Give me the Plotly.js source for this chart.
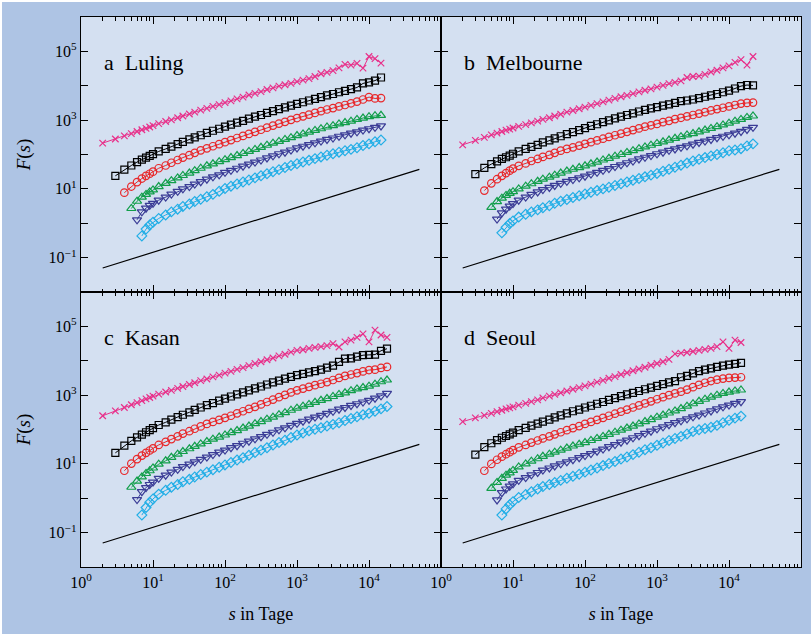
<!DOCTYPE html>
<html>
<head>
<meta charset="utf-8">
<script src="https://cdn.plot.ly/plotly-3.0.1.min.js"></script>
<style>html,body{margin:0;padding:0;background:#aec4e4;}#chart{width:811px;height:634px;}</style>
</head>
<body>
<div id="chart"></div>
<script>
// window sizes s (days), shared by all series
const S = [2,3,4,5,6,7,8,9,10,12,15,18,22,26,32,38,46,56,68,83,100,121,147,178,215,261,316,383,464,562,681,825,1000,1212,1468,1778,2154,2610,3162,3831,4642,5623,6813,8254,10000,12115,14678,17783,21544];
// first window size of each series (x, square, circle, up-triangle, down-triangle, diamond)
const SERIES_START_S = [2,3,4,5,6,7];
const PANEL_LABELS = ['a\u00a0\u00a0Luling','b\u00a0\u00a0Melbourne','c\u00a0\u00a0Kasan','d\u00a0\u00a0Seoul'];
// reference slope line
const LINE_S = [2, 50000];
const LINE_F = [0.05, 37];

// a Luling
const A_MAG = [214,282,347,407,468,525,575,631,692,794,912,1020,1170,1320,1510,1700,1950,2190,2510,2820,3240,3630,4170,4680,5370,6030,6760,7760,8710,9770,10700,11700,13200,14500,16200,18600,22400,24500,27500,33100,41700,39800,44700,32400,70800,61700,45700];
const A_BLK = [24.0,36.3,47.9,60.3,70.8,81.3,91.2,102,123,145,170,200,234,275,316,363,427,490,562,646,741,851,955,1100,1260,1410,1620,1820,2090,2340,2630,2950,3310,3720,4170,4680,5250,5750,6460,7080,7940,8910,11700,12600,14100,17400];
const A_RED = [7.76,11.7,15.8,20.0,24.0,27.5,31.6,39.8,47.9,57.5,69.2,81.3,95.5,112,132,151,174,200,229,263,302,347,398,457,525,603,692,794,891,1020,1150,1290,1450,1620,1820,2040,2240,2510,2750,3090,3470,3980,4680,4270,4370];
const A_GRN = [2.69,4.37,5.75,6.92,8.13,9.33,11.7,14.5,17.4,20.9,24.5,28.8,33.9,39.8,46.8,53.7,61.7,70.8,81.3,93.3,107,123,141,162,186,214,240,275,309,355,398,447,501,562,631,692,776,851,933,1050,1150,1260,1350,1380];
const A_BLU = [1.26,2.14,2.75,3.31,3.80,4.68,5.75,7.08,8.51,10.0,11.7,13.8,16.2,19.1,22.4,25.7,30.2,34.7,39.8,45.7,52.5,60.3,69.2,79.4,91.2,105,117,135,155,174,195,219,245,275,302,339,372,417,457,513,562,617,676];
const A_CYN = [0.427,0.676,0.891,1.07,1.38,1.74,2.14,2.57,3.09,3.63,4.27,5.01,5.89,6.92,8.51,10.2,12.0,13.8,15.8,18.2,20.9,24.0,27.5,31.6,36.3,41.7,47.9,53.7,60.3,67.6,75.9,85.1,95.5,105,117,129,141,158,182,204,234,263];

// b Melbourne
const B_MAG = [191,257,316,372,417,468,513,550,589,661,741,832,933,1050,1170,1320,1480,1700,1910,2140,2400,2690,3020,3390,3800,4270,4790,5250,5890,6610,7410,8130,9120,10200,11500,12600,13800,17400,18600,19100,21400,25100,28200,33100,38000,47900,57500,39800,70800];
const B_BLK = [26.9,40.7,52.5,63.1,74.1,83.2,93.3,105,123,145,166,191,224,257,295,339,389,447,513,589,676,759,871,977,1120,1260,1410,1580,1780,2000,2190,2400,2630,2880,3160,3550,3720,3980,4370,4790,5250,5750,6460,7240,8320,9770,10500,10200];
const B_RED = [8.91,14.5,19.1,24.0,28.8,33.9,38.9,46.8,55.0,64.6,74.1,85.1,97.7,112,129,145,162,182,204,229,257,288,324,363,407,457,513,575,646,708,776,871,955,1070,1170,1290,1410,1550,1700,1910,2090,2290,2510,2750,3020,3160,3240];
const B_GRN = [2.88,4.27,5.37,6.46,7.41,8.32,10.0,12.0,14.1,16.6,19.1,21.9,25.1,28.8,33.1,37.2,41.7,46.8,53.7,60.3,69.2,77.6,89.1,100,115,129,148,166,186,209,234,263,295,331,372,407,457,513,575,646,724,813,933,1050,1200,1320];
const B_BLU = [1.32,2.00,2.57,3.16,3.72,4.68,5.75,6.92,8.13,9.55,11.0,12.6,14.5,16.6,18.6,20.9,23.4,26.9,30.2,34.7,38.9,44.7,50.1,57.5,64.6,74.1,83.2,93.3,105,117,132,145,162,178,200,224,245,275,309,339,372,417,468,537,617];
const B_CYN = [0.525,0.759,0.977,1.17,1.51,1.82,2.14,2.45,2.82,3.24,3.80,4.37,4.90,5.62,6.31,7.08,7.94,8.91,10.0,11.2,12.6,14.1,15.8,17.8,20.0,22.4,25.1,28.2,32.4,37.2,42.7,49.0,56.2,64.6,72.4,81.3,91.2,100,112,129,135,148,178,204];

// c Kasan
const C_MAG = [251,347,437,525,603,692,776,851,933,1070,1230,1380,1580,1780,2040,2290,2630,2950,3390,3800,4370,4900,5620,6310,7240,8320,9330,10700,12000,13800,15500,17800,20000,20900,22900,24500,25700,27500,31600,25100,35500,39800,47900,60300,35500,77600,56200,47900];
const C_BLK = [20.9,33.9,46.8,58.9,70.8,83.2,95.5,110,135,162,195,229,269,316,372,437,513,589,692,794,912,1050,1200,1380,1580,1780,2040,2340,2630,3020,3390,3800,4170,4570,5010,5500,6310,7240,9330,11500,11700,13200,14500,14800,15100,19500,22400];
const C_RED = [6.31,10.2,13.8,17.4,20.9,24.5,28.2,35.5,43.7,52.5,63.1,75.9,89.1,105,123,145,166,191,219,251,295,339,398,457,537,631,741,871,1020,1200,1380,1550,1740,1950,2140,2400,2750,3160,3630,3980,4370,4900,5370,5500,6170,6610];
const C_GRN = [2.09,3.16,4.17,5.25,6.31,7.59,9.77,12.3,15.5,19.1,22.9,27.5,32.4,38.0,44.7,52.5,60.3,69.2,81.3,93.3,110,126,148,170,200,229,269,309,363,417,479,537,617,708,794,912,1050,1170,1350,1510,1660,1820,2090,2450,2750];
const C_BLU = [0.912,1.55,2.04,2.51,2.95,3.80,4.68,5.75,6.92,8.32,9.77,11.5,13.5,15.8,18.6,21.9,25.1,29.5,33.9,39.8,45.7,53.7,61.7,72.4,83.2,97.7,112,132,151,174,200,229,257,295,339,389,437,501,562,631,708,813,955,1120];
const C_CYN = [0.324,0.537,0.759,0.955,1.32,1.70,2.09,2.51,3.02,3.55,4.17,4.90,5.75,6.76,7.94,9.33,11.0,12.9,15.1,17.8,21.4,25.1,29.5,35.5,41.7,49.0,58.9,69.2,79.4,91.2,102,112,126,141,158,182,209,234,269,295,339,398,468];

// d Seoul
const D_MAG = [170,219,257,295,331,363,398,427,457,513,575,646,724,832,933,1050,1170,1320,1480,1660,1860,2090,2400,2690,3090,3470,3980,4470,5130,5750,6460,7410,8320,9330,11000,15800,16600,17400,18600,20000,21400,22900,25700,35500,22900,39800,33900];
const D_BLK = [18.6,30.9,39.8,49.0,57.5,64.6,72.4,81.3,95.5,112,129,148,170,195,224,257,295,339,380,437,490,562,631,724,813,933,1050,1170,1320,1480,1660,1860,2090,2340,2570,3310,3630,4270,5010,5500,6030,6610,7240,7760,8130,8710];
const D_RED = [6.31,10.0,13.2,16.2,19.1,21.9,25.1,30.2,35.5,41.7,47.9,55.0,63.1,72.4,83.2,95.5,110,126,145,166,191,219,251,288,331,380,437,501,575,661,759,871,1000,1120,1260,1450,1700,2000,2290,2570,2820,3020,3160,3240,3310];
const D_GRN = [1.95,2.88,3.80,4.68,5.50,6.46,8.13,10.0,12.0,14.1,16.6,19.1,21.9,25.1,28.8,33.1,37.2,41.7,47.9,55.0,63.1,72.4,83.2,95.5,110,126,145,170,195,229,263,302,347,407,479,562,661,759,871,1000,1120,1230,1320,1410];
const D_BLU = [0.891,1.45,1.86,2.24,2.63,3.31,3.98,4.79,5.62,6.61,7.59,8.71,10.0,11.5,13.2,15.1,17.4,20.0,23.4,26.9,31.6,36.3,42.7,49.0,57.5,66.1,77.6,89.1,105,120,138,158,178,204,234,263,302,347,398,457,513,575,646];
const D_CYN = [0.324,0.490,0.646,0.794,1.05,1.29,1.55,1.86,2.19,2.51,2.88,3.31,3.80,4.37,5.01,5.75,6.61,7.59,8.91,10.2,11.7,13.8,15.8,18.6,21.9,25.7,29.5,34.7,40.7,47.9,55.0,63.1,74.1,87.1,97.7,107,117,132,158,186,214,245];

const PANEL_DATA = [
  [A_MAG, A_BLK, A_RED, A_GRN, A_BLU, A_CYN],
  [B_MAG, B_BLK, B_RED, B_GRN, B_BLU, B_CYN],
  [C_MAG, C_BLK, C_RED, C_GRN, C_BLU, C_CYN],
  [D_MAG, D_BLK, D_RED, D_GRN, D_BLU, D_CYN]
];

const COLORS = ['#e8308a', '#000000', '#e8282b', '#119e4a', '#3b3c96', '#22aee6'];
const SYMBOLS = ['x-thin-open', 'square-open', 'circle-open', 'triangle-up-open', 'triangle-down-open', 'diamond-open'];
const SIZES = [6.5, 7, 7.5, 8, 8, 7.5];

const AX = ['', '2', '3', '4'];
const traces = [];
PANEL_DATA.forEach((series, p) => {
  const xa = 'x' + AX[p], ya = 'y' + AX[p];
  traces.push({x: LINE_S, y: LINE_F, xaxis: xa, yaxis: ya, mode: 'lines',
    line: {color: '#000', width: 1.2}, hoverinfo: 'skip'});
  for (let k = series.length - 1; k >= 0; k--) {
    const vals = series[k];
    const i0 = S.indexOf(SERIES_START_S[k]);
    traces.push({
      x: S.slice(i0, i0 + vals.length), y: vals, xaxis: xa, yaxis: ya,
      mode: 'lines+markers',
      line: {color: COLORS[k], width: 1},
      marker: {symbol: SYMBOLS[k], size: SIZES[k], color: COLORS[k],
               line: {color: COLORS[k], width: 1.2}}
    });
  }
});

const XT_VALS = [1, 10, 100, 1000, 10000, 100000];
const XT_TEXT = ['10<sup>0</sup>', '10<sup>1</sup>', '10<sup>2</sup>', '10<sup>3</sup>', '10<sup>4</sup>', '10<sup>5</sup>'];
const YT_VALS = [0.01, 0.1, 1, 10, 100, 1000, 10000, 100000, 1000000];
const YT_TEXT = ['', '10<sup>\u22121</sup>', '', '10<sup>1</sup>', '', '10<sup>3</sup>', '', '10<sup>5</sup>', ''];
const MINOR_X = [];
for (let d = 1; d <= 10000; d *= 10) for (let m = 2; m <= 9; m++) MINOR_X.push(m * d);

const XTITLE = '<i>s</i> in Tage';
const YTITLE = '<i>F</i>(<i>s</i>)';
const SERIF = "'Liberation Serif', 'Times New Roman', serif";

function xAxis(domain, anchor, text, title) {
  const a = {
    type: 'log', domain: domain, anchor: anchor, range: [0, 5],
    showline: true, linewidth: 1.3, linecolor: '#000', mirror: 'ticks',
    ticks: 'inside', ticklen: 7, tickwidth: 1, tickcolor: '#000',
    tickmode: 'array', tickvals: XT_VALS, ticktext: text || XT_VALS.map(() => ''),
    showticklabels: !!text, tickfont: {family: SERIF, size: 16},
    showgrid: false, zeroline: false,
    minor: {ticks: 'inside', ticklen: 3.5, tickwidth: 1, tickcolor: '#000',
            tickmode: 'array', tickvals: MINOR_X, showgrid: false}
  };
  if (title) a.title = {text: title, font: {family: SERIF, size: 18}, standoff: 18};
  return a;
}
function yAxis(domain, anchor, labels, title) {
  const a = {
    type: 'log', domain: domain, anchor: anchor, range: [-2, 6],
    showline: true, linewidth: 1.3, linecolor: '#000', mirror: 'ticks',
    ticks: 'inside', ticklen: 7, tickwidth: 1, tickcolor: '#000',
    tickmode: 'array', tickvals: YT_VALS, ticktext: labels ? YT_TEXT : YT_VALS.map(() => ''),
    showticklabels: labels, tickfont: {family: SERIF, size: 16},
    showgrid: false, zeroline: false
  };
  if (title) a.title = {text: title, font: {family: SERIF, size: 19}, standoff: 13};
  return a;
}

const LEFT_TEXT = XT_TEXT.slice(0, 5).concat(['']);

const annotations = PANEL_LABELS.map((t, p) => ({
  text: t, xref: 'x' + AX[p] + ' domain', yref: 'y' + AX[p] + ' domain',
  x: 0.058, y: 0.836, xanchor: 'left', yanchor: 'middle', showarrow: false,
  font: {family: SERIF, size: 22, color: '#000'}
}));

const layout = {
  width: 811, height: 634,
  margin: {l: 81, r: 10, t: 17, b: 67},
  paper_bgcolor: '#aec4e4', plot_bgcolor: '#d4e0f1',
  font: {family: SERIF, size: 16, color: '#000'},
  showlegend: false,
  xaxis: xAxis([0, 0.5], 'y', null, null),
  yaxis: yAxis([0.5, 1], 'x', true, YTITLE),
  xaxis2: xAxis([0.5, 1], 'y2', null, null),
  yaxis2: yAxis([0.5, 1], 'x2', false, null),
  xaxis3: xAxis([0, 0.5], 'y3', LEFT_TEXT, XTITLE),
  yaxis3: yAxis([0, 0.5], 'x3', true, YTITLE),
  xaxis4: xAxis([0.5, 1], 'y4', XT_TEXT, XTITLE),
  yaxis4: yAxis([0, 0.5], 'x4', false, null),
  annotations: annotations,
  shapes: [
    {type: 'rect', xref: 'paper', yref: 'paper', x0: -0.1125, x1: 1.014, y0: 1.0273, y1: 1.031,
     fillcolor: '#ffffff', line: {width: 0}, layer: 'below'},
    {type: 'rect', xref: 'paper', yref: 'paper', x0: -0.1125, x1: -0.1097, y0: -0.122, y1: 1.031,
     fillcolor: '#ffffff', line: {width: 0}, layer: 'below'}
  ]
};

Plotly.newPlot('chart', traces, layout, {displayModeBar: false, staticPlot: true});
</script>
</body>
</html>
